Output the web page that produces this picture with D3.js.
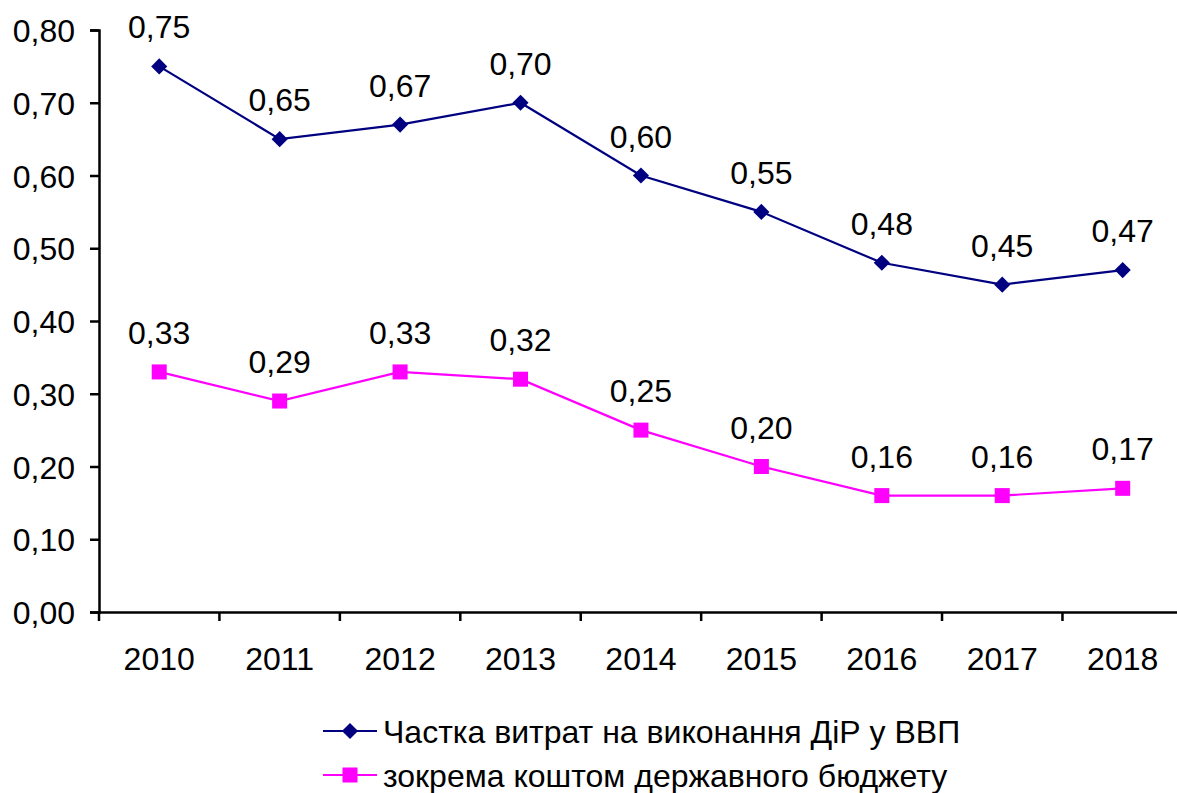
<!DOCTYPE html>
<html><head><meta charset="utf-8">
<script src="https://cdn.jsdelivr.net/npm/d3@7"></script>
<style>body{margin:0;background:#fff}svg{display:block}text{font-family:"Liberation Sans",Arial,sans-serif;fill:#000}</style>
</head><body><svg id="c" width="1177" height="793"></svg>
<script>
const years = ["2010","2011","2012","2013","2014","2015","2016","2017","2018"];
const seriesNames = ["Частка витрат на виконання ДіР у ВВП","зокрема коштом державного бюджету"];
const rdShare = [0.75,0.65,0.67,0.70,0.60,0.55,0.48,0.45,0.47];
const budgetShare = [0.33,0.29,0.33,0.32,0.25,0.20,0.16,0.16,0.17];
const yTicks = [0,0.1,0.2,0.3,0.4,0.5,0.6,0.7,0.8];

const FS = "32px";
const svg = d3.select("#c");
const fmt = v => d3.format(".2f")(v).replace(".", ",");
const x = d3.scaleBand().domain(years).range([99, 1182.9]);
const y = d3.scaleLinear().domain([0, 0.8]).range([612, 30]);

const ya = svg.append("g").attr("transform","translate(99,0)")
  .call(d3.axisLeft(y).tickValues(yTicks).tickFormat(fmt).tickSize(9).tickPadding(15));
ya.selectAll("text").style("font-size",FS).attr("dy","0.36em");
const xa = svg.append("g").attr("transform","translate(0,612)")
  .call(d3.axisBottom(x).tickSize(0).tickPadding(35));
xa.selectAll("text").style("font-size",FS);
xa.selectAll(".btick").data(years).enter().append("line")
  .attr("x1",(d,i)=>99+x.step()*i).attr("x2",(d,i)=>99+x.step()*i)
  .attr("y1",0).attr("y2",9).attr("stroke","#000").attr("stroke-width",2.5);
svg.selectAll(".domain").attr("stroke","#000").attr("stroke-width",2.5);
ya.selectAll(".tick line").attr("stroke-width",2.5);

const cx = d => x(d) + x.bandwidth()/2;
const series = [
  {vals: rdShare, color:"#000080", marker:"diamond"},
  {vals: budgetShare, color:"#FF00FF", marker:"square"}
];
const line = d3.line().x((d,i)=>cx(years[i])).y(d=>y(d));
const diamond = d3.symbol().type(d3.symbolSquare).size(130);
series.forEach(s=>{
  svg.append("path").attr("d", line(s.vals)).attr("fill","none").attr("stroke",s.color).attr("stroke-width",2.2);
  s.vals.forEach((v,i)=>{
    const px = cx(years[i]), py = y(v);
    if (s.marker==="diamond") {
      svg.append("path").attr("d",diamond()).attr("transform",`translate(${px},${py}) rotate(45)`).attr("fill",s.color);
    } else {
      svg.append("rect").attr("x",px-7.5).attr("y",py-7.5).attr("width",15).attr("height",15).attr("fill",s.color);
    }
    svg.append("text").attr("x",px).attr("y",py-28).attr("text-anchor","middle").style("font-size",FS).text(fmt(v));
  });
});

const lg = svg.append("g");
seriesNames.forEach((n,i)=>{
  const ly = 731 + i*44;
  const s = series[i];
  lg.append("line").attr("x1",323).attr("x2",377).attr("y1",ly).attr("y2",ly).attr("stroke",s.color).attr("stroke-width",2.2);
  if (s.marker==="diamond") lg.append("path").attr("d",diamond()).attr("transform",`translate(350,${ly}) rotate(45)`).attr("fill",s.color);
  else lg.append("rect").attr("x",342.5).attr("y",ly-7.5).attr("width",15).attr("height",15).attr("fill",s.color);
  lg.append("text").attr("x",383).attr("y",ly).attr("dy","0.36em").style("font-size",FS).text(n);
});
</script></body></html>
